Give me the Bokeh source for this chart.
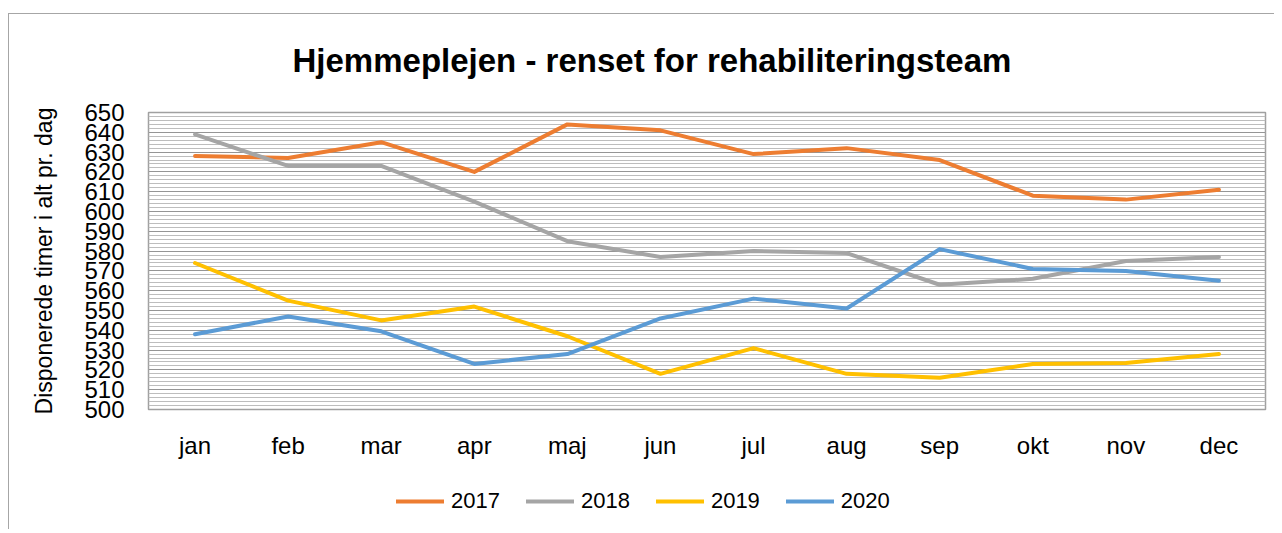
from bokeh.plotting import figure
from bokeh.models import (Range1d, SingleIntervalTicker, FactorRange, Legend,
                          LegendItem, Label)
from bokeh.layouts import column
from bokeh.embed import file_html
from bokeh.resources import INLINE

months = ["jan", "feb", "mar", "apr", "maj", "jun", "jul", "aug", "sep", "okt", "nov", "dec"]
y2017 = [628, 627, 635, 620, 644, 641, 629, 632, 626, 608, 606, 611]
y2018 = [639, 623, 623, 605, 585, 577, 580, 579, 563, 566, 575, 577]
y2019 = [574, 555, 545, 552, 537, 518, 531, 518, 516, 523, 523.5, 528]
y2020 = [538, 547, 539.5, 523, 528, 546, 556, 551, 581, 571, 570, 565]
series = [("2017", y2017, "#ED7D31"), ("2018", y2018, "#A5A5A5"),
          ("2019", y2019, "#FFC000"), ("2020", y2020, "#5B9BD5")]
title_text = "Hjemmeplejen - renset for rehabiliteringsteam"

FONT = "Liberation Sans"
W = 1265
# the strips' frames are aligned with the chart frame (page x 148..1265)
FX0, FX1 = 148, 1265


def strip(h):
    f = figure(width=W, height=h, x_range=Range1d(FX0, FX1), y_range=Range1d(0, h),
               output_backend="svg", toolbar_location=None,
               x_axis_location=None, y_axis_location=None, min_border=0)
    f.grid.visible = False
    f.outline_line_color = None
    return f


# title strip
top = strip(75)
top.add_layout(Label(x=292, y=29, text=title_text, text_font=FONT,
                     text_font_size="33px", text_font_style="bold",
                     text_color="#000000", text_align="left",
                     text_baseline="middle"))

# main chart
p = figure(width=W, height=372, x_range=FactorRange(*months, range_padding=0),
           y_range=Range1d(500, 650), output_backend="svg", toolbar_location=None,
           min_border_left=139, min_border_right=9, min_border_top=23,
           min_border_bottom=50)

for name, ys, col in series:
    p.line(months, ys, line_color=col, line_width=4, line_cap="round",
           line_join="round")

p.outline_line_color = "#a0a0a0"
p.outline_line_width = 1.5

p.xgrid.grid_line_color = None
p.yaxis.ticker = SingleIntervalTicker(interval=10, num_minor_ticks=5)
p.ygrid.grid_line_color = "#959595"
p.ygrid.grid_line_width = 1
p.ygrid.minor_grid_line_color = "#bdbdbd"
p.ygrid.minor_grid_line_width = 1

for ax in (p.xaxis[0], p.yaxis[0]):
    ax.axis_line_color = None
    ax.major_tick_line_color = None
    ax.minor_tick_line_color = None
    ax.major_label_text_font = FONT
    ax.major_label_text_font_size = "24px"
    ax.major_label_text_color = "#000000"

p.xaxis.major_label_standoff = 16
p.yaxis.major_label_standoff = 18
p.yaxis.axis_label = "Disponerede timer i alt pr. dag"
p.yaxis.axis_label_text_font = FONT
p.yaxis.axis_label_text_font_size = "23px"
p.yaxis.axis_label_text_font_style = "normal"
p.yaxis.axis_label_text_color = "#000000"
p.yaxis.axis_label_standoff = 24

# legend strip (series drawn out of its visible range; only the legend shows)
bottom = strip(68)
items = []
for name, ys, col in series:
    r = bottom.line(x=list(range(len(ys))), y=ys, line_color=col, line_width=4,
                    line_cap="round")
    items.append(LegendItem(label=name, renderers=[r]))
lg = Legend(items=items, orientation="horizontal", location=(248, 15),
            padding=0, margin=0, spacing=26, glyph_width=48, glyph_height=20,
            label_height=26, label_standoff=7, label_text_font=FONT,
            label_text_font_size="22px", label_text_color="#000000",
            border_line_color=None, background_fill_alpha=0)
bottom.add_layout(lg, "center")

layout = column(top, p, bottom, spacing=0)
layout.styles = {"border-top": "1px solid #a6a6a6", "border-left": "1px solid #a6a6a6",
                 "margin-top": "13px", "margin-left": "8px"}

open("out.html", "w").write(file_html(layout, INLINE))
